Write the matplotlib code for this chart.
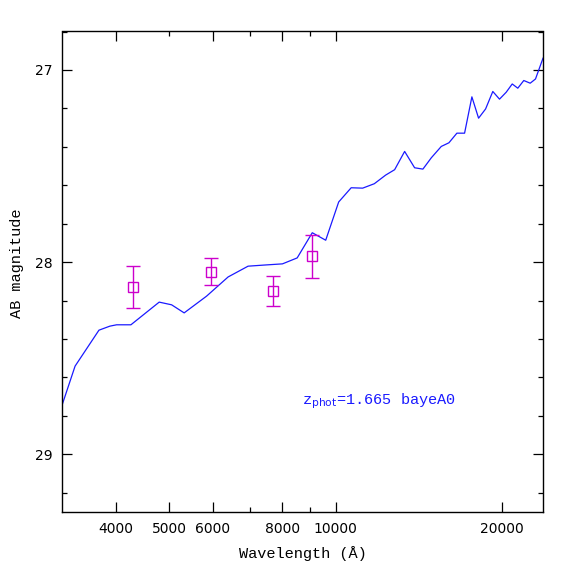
import matplotlib
matplotlib.use("Agg")
import matplotlib.pyplot as plt
from matplotlib.ticker import FixedLocator, NullFormatter, FixedFormatter

## Model SED (wavelength in Angstrom, AB magnitude).
wave = [3200, 3379, 3732, 3906, 4017, 4263, 4796, 5050, 5321, 5841,
        6390, 6943, 7440, 8011, 8518, 9070, 9592, 10124, 10665, 11187,
        11743, 12312, 12780, 13323, 13888, 14376, 14888, 15518, 16020, 16560,
        17099, 17627, 18125, 18662, 19231, 19775, 20333, 20850, 21340, 21878,
        22470, 22972, 23700]
mag = [28.745, 28.541, 28.354, 28.333, 28.326, 28.326, 28.208, 28.222, 28.264, 28.177,
       28.077, 28.021, 28.015, 28.009, 27.978, 27.847, 27.886, 27.687, 27.613, 27.615,
       27.592, 27.547, 27.519, 27.424, 27.509, 27.516, 27.457, 27.398, 27.379, 27.329,
       27.329, 27.140, 27.251, 27.203, 27.112, 27.152, 27.116, 27.073, 27.095, 27.055,
       27.069, 27.047, 26.939]

## Observed photometry with errors.
phot_wave = [4304, 5947, 7702, 9077]
phot_mag = [28.13, 28.05, 28.15, 27.97]
phot_err = [0.11, 0.07, 0.08, 0.11]

## Axis ticks.
xmajor = [4000, 5000, 6000, 8000, 10000, 20000]
xminor = [7000, 9000]
top_major = [4000, 6000, 8000, 10000, 20000]
top_minor = [5000, 7000, 9000]
ymajor = [27, 28, 29]
yminor = [26.8, 27.2, 27.4, 27.6, 27.8, 28.2, 28.4, 28.6, 28.8, 29.2]

label = r"z$_{\rm phot}$=1.665 bayeA0"

fig = plt.figure(figsize=(5.74, 5.74), dpi=100)
ax = fig.add_axes([62/574, 62/574, 481/574, 480.5/574])

ax.plot(wave, mag, color="#1a1aff", lw=0.9)
ax.errorbar(phot_wave, phot_mag, yerr=phot_err, fmt="s", mfc="none",
            mec="#cc00cc", ecolor="#cc00cc", ms=7, mew=1.0, elinewidth=1.0,
            capsize=5, capthick=1.0)

ax.set_xscale("log")
ax.set_xlim(3200, 23700)
ax.set_ylim(29.3, 26.8)

## Bottom axis ticks and labels.
ax.xaxis.set_major_locator(FixedLocator(xmajor))
ax.xaxis.set_major_formatter(FixedFormatter([str(v) for v in xmajor]))
ax.xaxis.set_minor_locator(FixedLocator(xminor))
ax.xaxis.set_minor_formatter(NullFormatter())
ax.yaxis.set_major_locator(FixedLocator(ymajor))
ax.yaxis.set_minor_locator(FixedLocator(yminor))

ax.tick_params(which="both", direction="in", right=True, top=False, width=0.9)
ax.tick_params(which="major", length=7.2, labelsize=10)
ax.tick_params(which="minor", length=3.6)
ax.tick_params(axis="x", pad=7)
ax.tick_params(axis="y", pad=6.5)

## Top axis has its own long/short ticks.
top = ax.secondary_xaxis("top")
top.xaxis.set_major_locator(FixedLocator(top_major))
top.xaxis.set_minor_locator(FixedLocator(top_minor))
top.xaxis.set_major_formatter(NullFormatter())
top.xaxis.set_minor_formatter(NullFormatter())
top.tick_params(which="both", direction="in", width=0.9)
top.tick_params(which="major", length=7.2)
top.tick_params(which="minor", length=3.6)

for s in ax.spines.values():
    s.set_linewidth(1.0)
ax.spines["top"].set_visible(False)
top.spines["top"].set_linewidth(1.0)

ax.set_xlabel("Wavelength (Å)", family="Liberation Mono", fontsize=11)
ax.set_ylabel("AB magnitude", family="Liberation Mono", fontsize=11)
ax.xaxis.set_label_coords(0.5, -0.071)
ax.yaxis.set_label_coords(-0.079, 0.518)

ax.text(8700, 28.74, label, color="#1a1aff", family="Liberation Mono",
        fontsize=11, va="baseline", ha="left")

fig.savefig("out.png", dpi=100)
